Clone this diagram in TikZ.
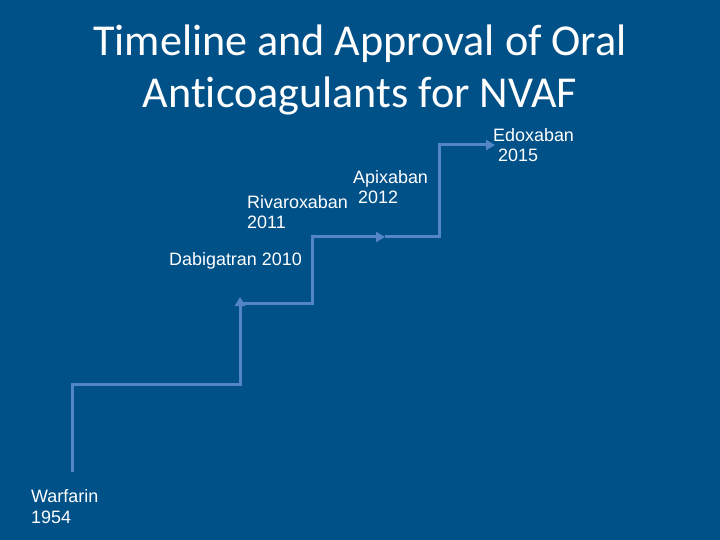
\documentclass[tikz,border=0pt]{standalone}
\usepackage{fontspec}
\setmainfont{Liberation Sans}
\newfontfamily\titlefont[Ligatures=NoCommon]{Carlito}
\usetikzlibrary{arrows.meta}
\definecolor{bgblue}{RGB}{1,81,137}
\definecolor{linkblue}{RGB}{84,134,198}
\tikzset{
  lbl/.style={text=white, font=\fontsize{18}{21}\selectfont, inner sep=0pt, align=left, anchor=base west},
  stepline/.style={draw=linkblue, line width=3bp, -{Triangle[length=9bp,width=10bp]}},
  titletext/.style={text=white, font=\titlefont\fontsize{44.3}{53}\selectfont, inner sep=0pt, align=center, anchor=base}
}
\begin{document}
\begin{tikzpicture}[x=1bp,y=-1bp]
\fill[bgblue] (0,0) rectangle (720,540);
\useasboundingbox (0,0) rectangle (720,540);
\node[titletext] (title) at (360,108) {Timeline and Approval of Oral\\Anticoagulants for NVAF};
\node[lbl] (warf) at (31,523) {Warfarin\\1954};
\node[lbl] (dabi) at (169,266) {Dabigatran 2010};
\node[lbl] (riva) at (247,229) {Rivaroxaban\\2011};
\node[lbl] (apix) at (353,204) {Apixaban\\\hspace*{0.278em}2012};
\node[lbl] (edox) at (493,162) {Edoxaban\\\hspace*{0.278em}2015};
\coordinate (s0) at (72,472);
\coordinate (t1) at (240,297);
\coordinate (s2) at (240,303);
\coordinate (t2) at (385,237);
\coordinate (t3) at (495,145);
\draw[stepline] (s0) -- (72,384) -- (240,384) -- (t1);
\draw[stepline] (s2) -- (312,303) -- (312,237) -- (t2);
\draw[stepline] (t2) -- (439,237) -- (439,145) -- (t3);
\end{tikzpicture}
\end{document}
